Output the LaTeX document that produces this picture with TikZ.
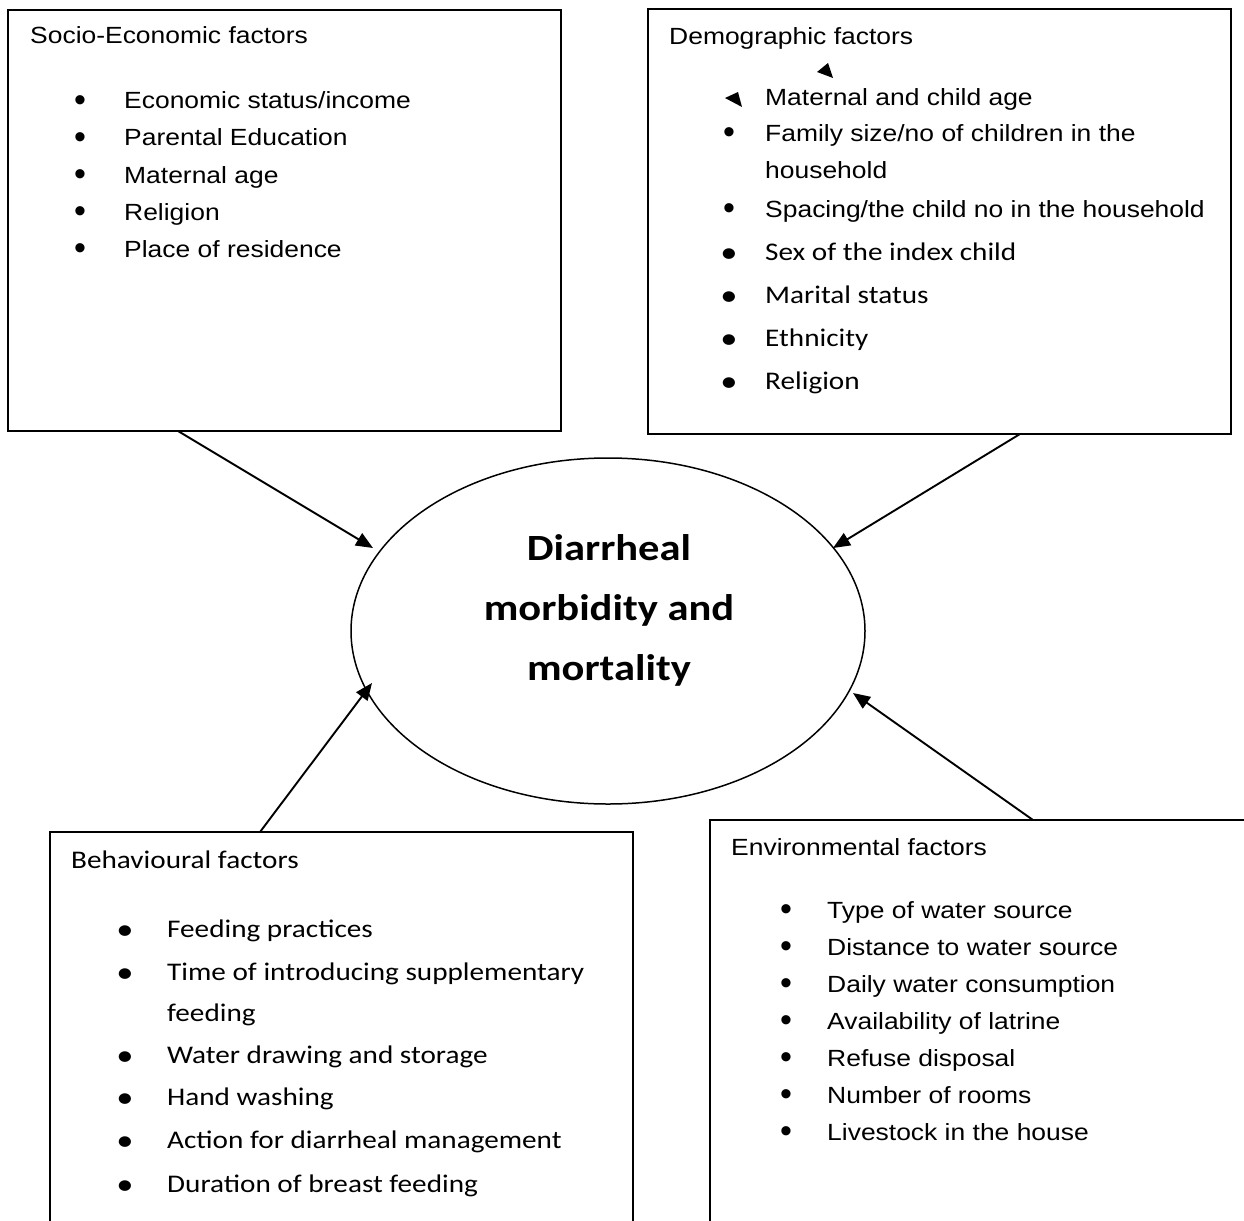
\documentclass[tikz,border=0pt]{standalone}
\usepackage{fontspec}
\setmainfont{Liberation Sans}
\newfontfamily\arialx[FakeStretch=1.13]{Liberation Sans}
\newfontfamily\calibx[FakeStretch=1.15]{Carlito}
\usetikzlibrary{arrows.meta,shapes.geometric}
\begin{document}
\begin{tikzpicture}[x=1pt,y=-1pt,
  frame/.style={draw,line width=1.5pt},
  arr/.style={-{Triangle[length=17pt,width=14pt]},line width=1.9pt},
  ar/.style={font=\arialx\fontsize{23.4}{28}\selectfont,anchor=base west,inner sep=0pt},
  cb/.style={font=\calibx\fontsize{25.4}{30}\selectfont,anchor=base west,inner sep=0pt},
  bla/.style={font=\fontsize{34}{40}\selectfont,inner sep=0pt},
  blc/.style={font=\calibx\fontsize{30}{36}\selectfont,inner sep=0pt},
  ctr/.style={font=\calibx\bfseries\fontsize{37}{44}\selectfont,anchor=base,inner sep=0pt}]
\useasboundingbox (0,0) rectangle (1244,1220);
\clip (0,0) rectangle (1244,1220);
\fill[white] (0,0) rectangle (1244,1220);
% boxes
\draw[frame] (8,10) rectangle (561,431);
\draw[frame] (648,9) rectangle (1231,434);
\draw[frame] (50,832) rectangle (633,1240);
\draw[frame] (710,820) rectangle (1260,1240);
% ellipse
\node[ellipse,draw,line width=1.5pt,minimum width=514pt,minimum height=346pt,inner sep=0pt] (dm) at (608,631) {};
\node[ctr] (c1) at (609,560) {Diarrheal};
\node[ctr] (c2) at (609,620) {morbidity and};
\node[ctr] (c3) at (609,680) {mortality};
% arrows
\coordinate (s1) at (178,431); \coordinate (t1) at (373,548);
\coordinate (s2) at (1020,434); \coordinate (t2) at (833,548);
\coordinate (s3) at (260,832); \coordinate (t3) at (372,683);
\coordinate (s4) at (1033,820); \coordinate (t4) at (853,693);
\draw[arr] (s1) -- (t1);
\draw[arr] (s2) -- (t2);
\draw[arr] (s3) -- (t3);
\draw[arr] (s4) -- (t4);
% socio-economic
\node[ar] (se0) at (30,44) {Socio-Economic factors};
\foreach \t [count=\i] in {Economic status/income,Parental Education,Maternal age,Religion,Place of residence}{
  \node[bla] (seb\i) at (80,{109+37*(\i-1)-5}) {•};
  \node[ar] (se\i) at (124,{109+37*(\i-1)}) {\t};
}
% demographic
\node[ar] (de0) at (669,45) {Demographic factors};
\fill (828,63) -- (817,72) -- (833,78) -- cycle;
\fill (738,92) -- (725,98) -- (742,107) -- cycle;
\node[ar] (de1) at (765,106) {Maternal and child age};
\node[bla] (deb2) at (729,136) {•};
\node[ar] (de2) at (765,141) {Family size/no of children in the};
\node[ar] (de2b) at (765,178) {household};
\node[bla] (deb3) at (729,212) {•};
\node[ar] (de3) at (765,217) {Spacing/the child no in the household};
\foreach \t [count=\i] in {Sex of the index child,Marital status,Ethnicity,Religion}{
  \node[blc] (debc\i) at (729,{260+43*(\i-1)-4}) {•};
  \node[cb] (dec\i) at (765,{260+43*(\i-1)}) {\t};
}
% behavioural
\node[cb] (be0) at (71,868) {Behavioural factors};
\node[blc] (beb1) at (125,933) {•};
\node[cb] (be1) at (167,937) {Feeding practices};
\node[blc] (beb2) at (125,976) {•};
\node[cb] (be2) at (167,980) {Time of introducing supplementary};
\node[cb] (be2b) at (167,1021) {feeding};
\node[blc] (beb3) at (125,1059) {•};
\node[cb] (be3) at (167,1063) {Water drawing and storage};
\node[blc] (beb4) at (125,1101) {•};
\node[cb] (be4) at (167,1105) {Hand washing};
\node[blc] (beb5) at (125,1144) {•};
\node[cb] (be5) at (167,1148) {Action for diarrheal management};
\node[blc] (beb6) at (125,1188) {•};
\node[cb] (be6) at (167,1192) {Duration of breast feeding};
% environmental
\node[ar] (en0) at (731,855) {Environmental factors};
\foreach \t [count=\i] in {Type of water source,Distance to water source,Daily water consumption,Availability of latrine,Refuse disposal,Number of rooms,Livestock in the house}{
  \node[bla] (enb\i) at (786,{918+37*(\i-1)-5}) {•};
  \node[ar] (en\i) at (827,{918+37*(\i-1)}) {\t};
}
\end{tikzpicture}
\end{document}
